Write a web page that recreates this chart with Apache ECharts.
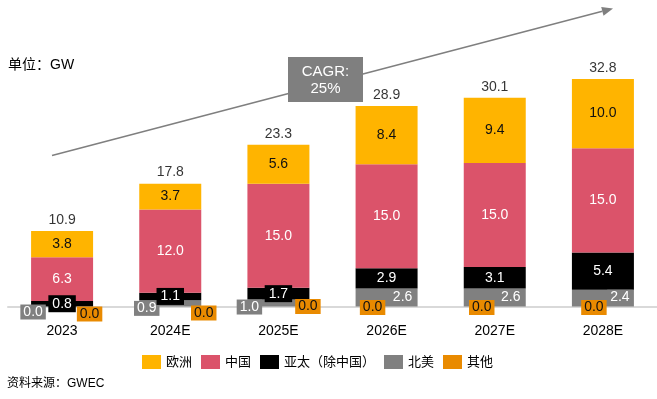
<!DOCTYPE html>
<html><head><meta charset="utf-8">
<script src="https://cdn.jsdelivr.net/npm/echarts@6/dist/echarts.min.js"></script>
<style>html,body{margin:0;padding:0;background:#fff}#c{width:657px;height:399px}</style>
</head><body><div id="c"></div>
<script>
const categories = ['2023', '2024E', '2025E', '2026E', '2027E', '2028E'];
const europe = [3.8, 3.7, 5.6, 8.4, 9.4, 10.0];
const china = [6.3, 12.0, 15.0, 15.0, 15.0, 15.0];
const apac = [0.8, 1.1, 1.7, 2.9, 3.1, 5.4];
const northAmerica = [0.0, 0.9, 1.0, 2.6, 2.6, 2.4];
const others = [0.0, 0.0, 0.0, 0.0, 0.0, 0.0];
const totals = [10.9, 17.8, 23.3, 28.9, 30.1, 32.8];
const seriesNames = ['欧洲', '中国', '亚太（除中国）', '北美', '其他'];

// label layout (offsets from segment centre), kept apart from the data
const naOffsets = [[-29, 5.5], [-23.5, 5], [-29, 4], [16, 0], [16, 0], [17, -1]];
const otherOffsets = [[27.5, 7.5], [33.5, 6.5], [29.5, 0], [-14, 1], [-13, 1], [-9, 1]];

const FONT = '"Liberation Sans", Arial, "Noto Sans CJK SC", sans-serif';
const C = { eu: '#FFB400', cn: '#DB536A', ap: '#000000', na: '#808080', ot: '#E98A00' };

function items(vals, offsets) {
  return vals.map((v, i) => offsets ? { value: v, label: { offset: offsets[i] } } : v);
}
const fmt = p => Number(p.value).toFixed(1);

const chart = echarts.init(document.getElementById('c'));

// arrow geometry
const x1 = 52, y1 = 155.5, x2 = 613, y2 = 8.5;
const ang = Math.atan2(y2 - y1, x2 - x1);
const L = 11, W = 4.5;
const bx = x2 - L * Math.cos(ang), by = y2 - L * Math.sin(ang);
const px = -Math.sin(ang), py = Math.cos(ang);

chart.setOption({
  animation: false,
  textStyle: { fontFamily: FONT },
  title: [
    { text: '单位：GW', left: 3, top: 53, textStyle: { fontSize: 14, fontWeight: 'normal', color: '#000', fontFamily: FONT } },
    { text: '资料来源：GWEC', left: 2, top: 373, textStyle: { fontSize: 12, fontWeight: 'normal', color: '#000', fontFamily: FONT } }
  ],
  legend: {
    data: seriesNames, left: 137, top: 350, itemWidth: 19, itemHeight: 14, itemGap: 9, icon: 'rect',
    textStyle: { fontSize: 13, color: '#000', fontFamily: FONT }
  },
  grid: { left: 8, width: 665, top: 29, height: 277.5 },
  xAxis: {
    type: 'category', data: categories,
    axisLine: { lineStyle: { color: '#D9D9D9', width: 2 } },
    axisTick: { show: false },
    axisLabel: { fontSize: 14, color: '#000', margin: 18, fontFamily: FONT }
  },
  yAxis: { type: 'value', min: 0, max: 40, show: false, splitLine: { show: false } },
  graphic: [
    { type: 'line', shape: { x1: x1, y1: y1, x2: bx, y2: by }, style: { stroke: '#7F7F7F', lineWidth: 1.5 }, z: 1 },
    { type: 'polygon', shape: { points: [[x2, y2], [bx + px * W, by + py * W], [bx - px * W, by - py * W]] }, style: { fill: '#7F7F7F' }, z: 1 },
    { type: 'rect', shape: { x: 288, y: 57, width: 75, height: 45 }, style: { fill: '#7F7F7F' }, z: 2 },
    { type: 'text', x: 325.5, y: 80, style: { text: 'CAGR:\n25%', fill: '#fff', font: '15px ' + FONT, align: 'center', verticalAlign: 'middle', lineHeight: 17 }, z: 3 }
  ],
  series: [
    { name: '其他', type: 'bar', stack: 't', barWidth: 62, z: 4, data: items(others, otherOffsets), itemStyle: { color: C.ot },
      label: { show: true, position: 'inside', formatter: fmt, color: '#111', fontSize: 14, backgroundColor: C.ot, padding: [1, 3], lineHeight: 13 } },
    { name: '北美', type: 'bar', stack: 't', data: items(northAmerica, naOffsets), itemStyle: { color: C.na },
      label: { show: true, position: 'inside', formatter: fmt, color: '#fff', fontSize: 14, backgroundColor: C.na, padding: [1, 3], lineHeight: 13 } },
    { name: '亚太（除中国）', type: 'bar', stack: 't', data: items(apac), itemStyle: { color: C.ap },
      label: { show: true, position: 'inside', formatter: fmt, color: '#fff', fontSize: 14, backgroundColor: C.ap, padding: [2, 4], lineHeight: 13 } },
    { name: '中国', type: 'bar', stack: 't', data: items(china), itemStyle: { color: C.cn },
      label: { show: true, position: 'inside', formatter: fmt, color: '#fff', fontSize: 14 } },
    { name: '欧洲', type: 'bar', stack: 't', data: items(europe), itemStyle: { color: C.eu },
      label: { show: true, position: 'inside', formatter: fmt, color: '#111', fontSize: 14 } },
    { name: '合计', type: 'scatter', data: totals, symbolSize: 1, itemStyle: { color: 'rgba(0,0,0,0)' }, z: 5,
      label: { show: true, position: 'top', distance: 3, formatter: fmt, color: '#000', fontSize: 14 } }
  ]
});
</script></body></html>
